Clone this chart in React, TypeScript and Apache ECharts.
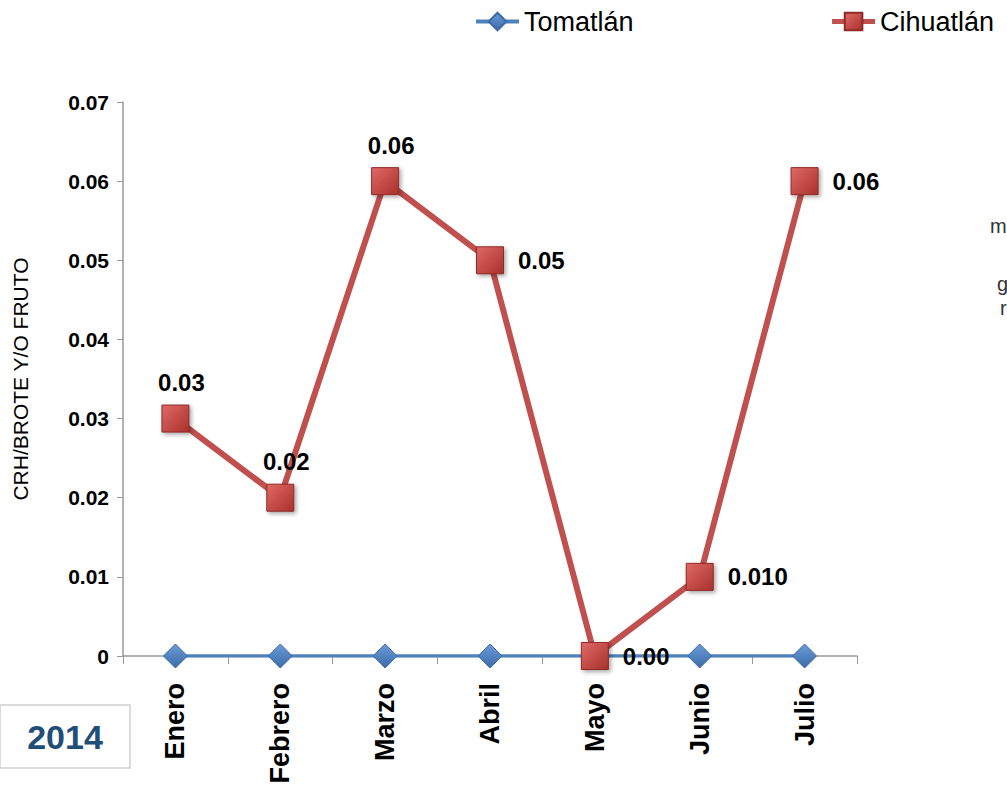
import React, { useEffect, useRef } from "react";
import * as echarts from "echarts";

const categories = ["Enero", "Febrero", "Marzo", "Abril", "Mayo", "Junio", "Julio"];
const tomatlan = [0, 0, 0, 0, 0, 0, 0];
const cihuatlan = [0.03, 0.02, 0.06, 0.05, 0.0, 0.01, 0.06];
const cihuatlanLabels = ["0.03", "0.02", "0.06", "0.05", "0.00", "0.010", "0.06"];
const cihuatlanLabelPos = ["top", "top", "top", "right", "right", "right", "right"];
const yTicks = [0, 0.01, 0.02, 0.03, 0.04, 0.05, 0.06, 0.07];

export default function App() {
  const ref = useRef<HTMLDivElement>(null);
  useEffect(() => {
    if (!ref.current) return;
    const chart = echarts.init(ref.current, null, { renderer: "svg" });
    const font = "Arial, 'Liberation Sans', sans-serif";
    chart.setOption({
      animation: false,
      backgroundColor: "#ffffff",
      textStyle: { fontFamily: font },
      legend: {
        top: 8,
        left: 474,
        padding: 0,
        itemGap: 196,
        itemWidth: 43,
        itemHeight: 22,
        textStyle: { fontSize: 27, color: "#000", fontFamily: font },
        data: [
          { name: "Tomatlán", lineStyle: { width: 4 } },
          { name: "Cihuatlán", lineStyle: { width: 5 } },
        ],
      },
      grid: {
        left: 123,
        right: 150,
        top: 102,
        bottom: 134,
        containLabel: false,
        outerBoundsMode: "none",
      },
      xAxis: {
        type: "category",
        data: categories,
        boundaryGap: true,
        axisLine: { lineStyle: { color: "#999", width: 1.5 } },
        axisTick: { show: true, length: 8, lineStyle: { color: "#999" }, alignWithLabel: false },
        axisLabel: {
          rotate: 90,
          margin: 27,
          fontSize: 27,
          fontWeight: "bold",
          color: "#000",
          fontFamily: font,
        },
      },
      yAxis: {
        type: "value",
        min: 0,
        max: 0.07,
        interval: 0.01,
        name: "CRH/BROTE Y/O FRUTO",
        nameLocation: "middle",
        nameGap: 92,
        nameTextStyle: { fontSize: 21, color: "#000", fontFamily: font },
        splitLine: { show: false },
        axisLine: { show: true, lineStyle: { color: "#999", width: 1.5 } },
        axisTick: { show: true, length: 6, lineStyle: { color: "#999" } },
        axisLabel: {
          fontSize: 21,
          fontWeight: "bold",
          color: "#000",
          margin: 14,
          fontFamily: font,
          formatter: (v: number) => {
            const idx = yTicks.findIndex((t) => Math.abs(t - v) < 1e-9);
            if (idx === 0) return "0";
            return v.toFixed(2);
          },
        },
      },
      series: [
        {
          name: "Tomatlán",
          type: "line",
          data: tomatlan,
          symbol: "diamond",
          symbolSize: 24,
          lineStyle: { color: "#4F81BD", width: 3.5 },
          itemStyle: {
            color: new echarts.graphic.LinearGradient(0, 0, 0, 1, [
              { offset: 0, color: "#6C9BD8" },
              { offset: 1, color: "#3A6CA8" },
            ]),
            borderColor: "#3A6CA8",
            borderWidth: 1,
          },
          z: 2,
        },
        {
          name: "Cihuatlán",
          type: "line",
          data: cihuatlan.map((v, i) => ({
            value: v,
            label: {
              show: true,
              position: cihuatlanLabelPos[i],
              distance: cihuatlanLabelPos[i] === "top" ? 10 : 14,
              offset: cihuatlanLabelPos[i] === "top" ? [6, 0] : [0, 0],
              formatter: cihuatlanLabels[i],
            },
          })),
          symbol: "rect",
          symbolSize: 27,
          lineStyle: { color: "#C0504D", width: 6 },
          itemStyle: {
            color: new echarts.graphic.LinearGradient(0, 0, 1, 1, [
              { offset: 0, color: "#E06A66" },
              { offset: 1, color: "#A8302C" },
            ]),
            borderColor: "#8E2A27",
            borderWidth: 1,
            shadowColor: "rgba(0,0,0,0.35)",
            shadowBlur: 4,
            shadowOffsetX: 2,
            shadowOffsetY: 2,
          },
          label: {
            fontSize: 24,
            fontWeight: "bold",
            color: "#000",
            fontFamily: font,
          },
          z: 3,
        },
      ],
      graphic: [
        {
          type: "rect",
          shape: { x: 0, y: 705, width: 130, height: 63 },
          style: { fill: "#fff", stroke: "#d0d0d0", lineWidth: 1.5 },
        },
        {
          type: "text",
          x: 65,
          y: 737,
          style: {
            text: "2014",
            fontSize: 34,
            fontWeight: "bold",
            fill: "#1F4E79",
            fontFamily: font,
            textAlign: "center",
            textVerticalAlign: "middle",
          },
        },
        {
          type: "text",
          x: 990,
          y: 216,
          style: { text: "m", fontSize: 20, fill: "#333", fontFamily: font },
        },
        {
          type: "text",
          x: 997,
          y: 274,
          style: { text: "g", fontSize: 20, fill: "#333", fontFamily: font },
        },
        {
          type: "text",
          x: 1000,
          y: 298,
          style: { text: "r", fontSize: 20, fill: "#333", fontFamily: font },
        },
      ],
    });
    return () => chart.dispose();
  }, []);
  return <div ref={ref} style={{ width: 1007, height: 790, position: "absolute", left: 0, top: 0 }} />;
}
